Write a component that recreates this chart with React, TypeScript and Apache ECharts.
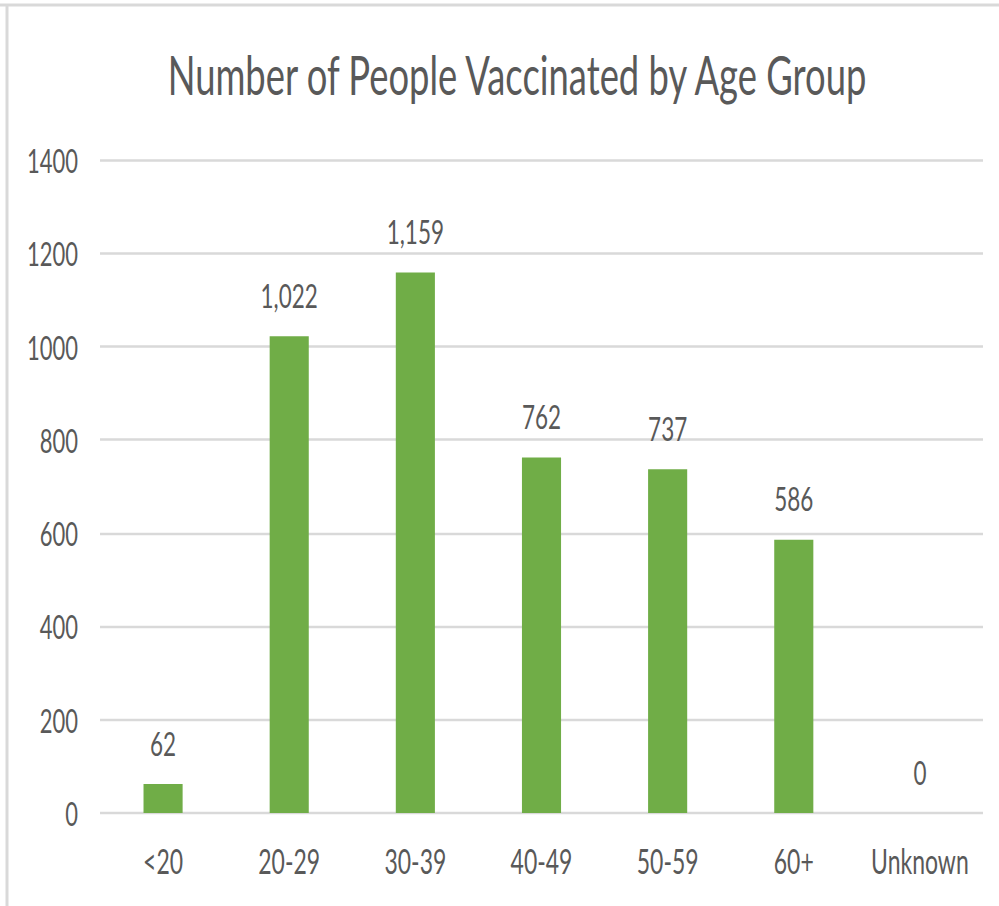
import React, { useEffect, useRef } from "react";
import * as echarts from "echarts";

const titleText = "Number of People Vaccinated by Age Group";
const categories = ["<20", "20-29", "30-39", "40-49", "50-59", "60+", "Unknown"];
const values = [62, 1022, 1159, 762, 737, 586, 0];
const yMin = 0;
const yMax = 1400;
const yInterval = 200;

const FONT = "Lato, sans-serif";
const TEXT = "#595959";
const GRID = "#d9d9d9";
const BAR = "#70ad47";

// The reference is drawn with a vertical stretch; render at reduced height and scale up.
const W = 999;
const H = 906;
const S = 1.5;
const CH = H / S;

export default function App() {
  const ref = useRef<HTMLDivElement>(null);
  useEffect(() => {
    document.body.style.margin = "0";
    document.body.style.overflow = "hidden";
    if (!ref.current) return;
    const chart = echarts.init(ref.current, undefined, { renderer: "svg" });
    chart.setOption({
      animation: false,
      backgroundColor: "#ffffff",
      title: {
        text: titleText,
        left: 512,
        textAlign: "center",
        top: 26.5,
        textStyle: { fontFamily: FONT, fontSize: 36.4, fontWeight: "normal", color: TEXT },
      },
      grid: { left: 100, right: 16, top: 160 / S, bottom: 93 / S, containLabel: false },
      xAxis: {
        type: "category",
        data: categories,
        axisLine: { show: false },
        axisTick: { show: false },
        axisLabel: { fontFamily: FONT, fontSize: 23, color: TEXT, margin: 20, interval: 0 },
      },
      yAxis: {
        type: "value",
        min: yMin,
        max: yMax,
        interval: yInterval,
        axisLine: { show: false },
        axisTick: { show: false },
        splitLine: { lineStyle: { color: GRID, width: 1.8 } },
        axisLabel: { fontFamily: FONT, fontSize: 22, color: TEXT, margin: 22, formatter: (v: number) => String(v) },
      },
      series: [
        {
          type: "bar",
          data: values,
          barWidth: "31%",
          itemStyle: { color: BAR },
          label: {
            show: true,
            position: "top",
            distance: 16,
            fontFamily: FONT,
            fontSize: 22.5,
            color: TEXT,
            formatter: (p: any) => Number(p.value).toLocaleString("en-US"),
          },
        },
      ],
      graphic: [
        { type: "line", shape: { x1: 0, y1: 5 / S, x2: W, y2: 5 / S }, style: { stroke: GRID, lineWidth: 2 } },
        { type: "line", shape: { x1: 7, y1: 5 / S, x2: 7, y2: CH }, style: { stroke: GRID, lineWidth: 3 } },
      ],
    });
    return () => chart.dispose();
  }, []);
  return (
    <div style={{ width: W, height: H, overflow: "hidden", background: "#fff" }}>
      <div
        ref={ref}
        style={{ width: W, height: CH, transform: `scaleY(${S})`, transformOrigin: "0 0" }}
      />
    </div>
  );
}
